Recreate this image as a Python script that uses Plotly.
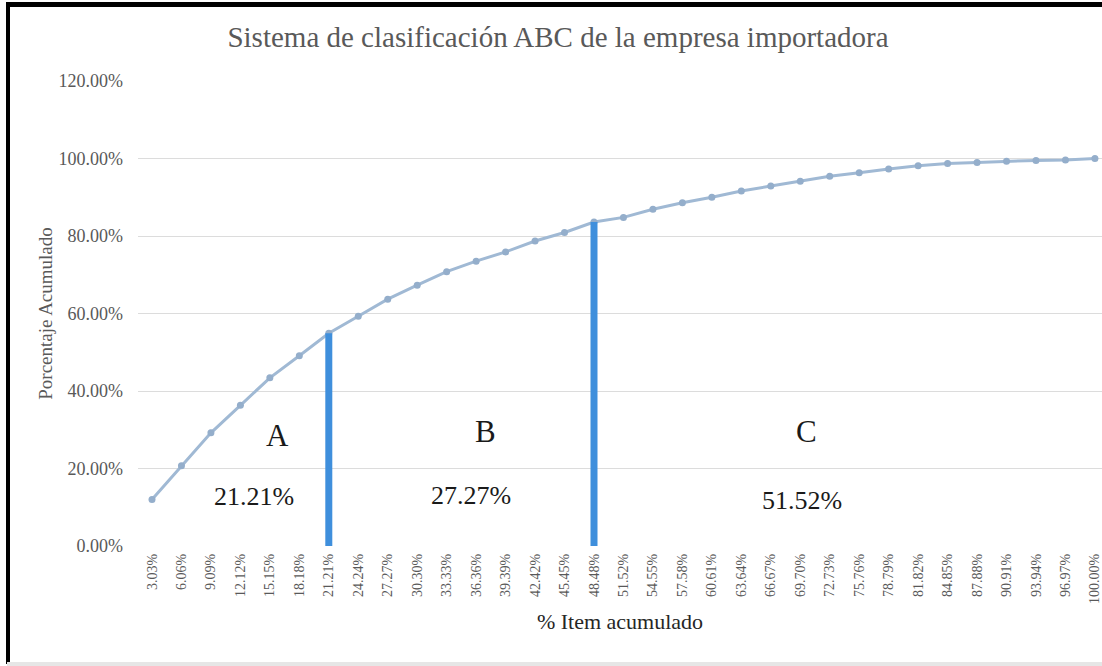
import plotly.graph_objects as go

# ---- data ----
items = ["3.03%", "6.06%", "9.09%", "12.12%", "15.15%", "18.18%", "21.21%", "24.24%",
         "27.27%", "30.30%", "33.33%", "36.36%", "39.39%", "42.42%", "45.45%", "48.48%",
         "51.52%", "54.55%", "57.58%", "60.61%", "63.64%", "66.67%", "69.70%", "72.73%",
         "75.76%", "78.79%", "81.82%", "84.85%", "87.88%", "90.91%", "93.94%", "96.97%",
         "100.00%"]
cum_pct = [12.0, 20.7, 29.2, 36.3, 43.4, 49.1, 54.9, 59.3, 63.7, 67.3, 70.8, 73.5,
           75.9, 78.7, 80.9, 83.6, 84.8, 86.9, 88.6, 90.0, 91.6, 92.9, 94.1, 95.4,
           96.3, 97.3, 98.1, 98.7, 99.0, 99.3, 99.5, 99.6, 100.0]
cut_items = ["21.21%", "48.48%"]
class_labels = ["A", "B", "C"]
class_shares = ["21.21%", "27.27%", "51.52%"]
y_ticks = [0, 20, 40, 60, 80, 100, 120]
y_tick_text = ["0.00%", "20.00%", "40.00%", "60.00%", "80.00%", "100.00%", "120.00%"]

SERIF = "Liberation Serif, Times New Roman, serif"
GRAY = "#595959"

fig = go.Figure()

fig.add_trace(go.Scatter(
    x=items, y=cum_pct, mode="lines+markers",
    line=dict(color="#a0b9d4", width=3),
    marker=dict(color="#94aecb", size=7),
    showlegend=False, hoverinfo="x+y",
))

for c in cut_items:
    v = cum_pct[items.index(c)]
    fig.add_trace(go.Scatter(
        x=[c, c], y=[0, v], mode="lines",
        line=dict(color="#3f8fdc", width=7),
        showlegend=False, hoverinfo="skip",
    ))

# plot area in pixels: x 138..1102, y 81..546
def px(x):
    return (x - 138) / 964.0

def py(y):
    return (546 - y) / 465.0

lab_pos = [(277, 435), (485, 431), (806, 431)]
share_pos = [(254, 496), (471, 495), (802, 500)]
for t, (x, y) in zip(class_labels, lab_pos):
    fig.add_annotation(x=px(x), y=py(y), xref="paper", yref="paper", text=t,
                       xanchor="center", yanchor="middle",
                       showarrow=False, font=dict(family=SERIF, size=31, color="#1a1a1a"))
for t, (x, y) in zip(class_shares, share_pos):
    fig.add_annotation(x=px(x), y=py(y), xref="paper", yref="paper", text=t,
                       xanchor="center", yanchor="middle",
                       showarrow=False, font=dict(family=SERIF, size=26, color="#1a1a1a"))

# frame
fig.add_shape(type="rect", xref="paper", yref="paper", layer="above",
              x0=px(6), x1=px(10), y0=py(2), y1=py(664),
              line=dict(width=0), fillcolor="#000000")
fig.add_shape(type="rect", xref="paper", yref="paper", layer="above",
              x0=px(6), x1=px(1102), y0=py(2), y1=py(7),
              line=dict(width=0), fillcolor="#000000")
fig.add_shape(type="rect", xref="paper", yref="paper",
              x0=px(7), x1=px(1102), y0=py(662), y1=py(666),
              line=dict(width=0), fillcolor="#e6e6e6")

fig.update_layout(
    width=1102, height=666,
    margin=dict(l=138, r=0, t=81, b=120),
    paper_bgcolor="white", plot_bgcolor="white",
    title=dict(text="Sistema de clasificación ABC de la empresa importadora",
               x=558 / 1102, xref="container", xanchor="center",
               y=1 - 37 / 666, yanchor="middle",
               font=dict(family=SERIF, size=29, color=GRAY)),
    font=dict(family=SERIF, color=GRAY),
)

fig.update_xaxes(
    type="category", categoryorder="array", categoryarray=items,
    range=[-0.475, 32.24], tickangle=-90,
    tickfont=dict(family=SERIF, size=14, color=GRAY),
    showgrid=False, showline=False, zeroline=False, ticks="",
    ticklabelstandoff=4,
    title=dict(text="% Item acumulado", font=dict(family=SERIF, size=22, color="#262626"),
               standoff=10),
)
fig.update_yaxes(
    range=[0, 120], tickvals=y_ticks, ticktext=y_tick_text,
    tickfont=dict(family=SERIF, size=18, color=GRAY),
    showgrid=True, gridcolor="#dcdcdc", gridwidth=1,
    zeroline=False, showline=False, ticks="",
    ticklabelstandoff=14,
    title=dict(text="Porcentaje Acumulado", font=dict(family=SERIF, size=19, color=GRAY),
               standoff=0),
)

fig.write_html("out.html", config={"displayModeBar": False},
               post_script="document.body.style.margin='0';document.body.style.overflow='hidden';")
